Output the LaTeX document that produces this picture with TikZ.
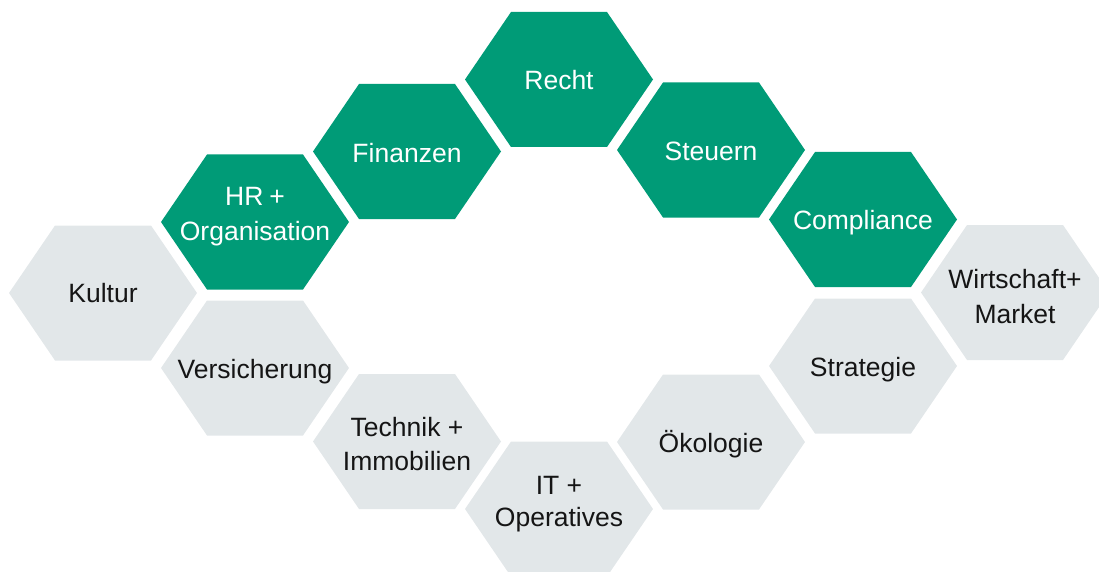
\documentclass[tikz,border=0pt]{standalone}
\usepackage{fontspec}
\setmainfont{Liberation Sans}
\definecolor{hexgreen}{HTML}{009B77}
\definecolor{hexgray}{HTML}{E2E7E9}
\definecolor{txtdark}{HTML}{151515}
\begin{document}
\begin{tikzpicture}[x=1pt,y=-1pt,
  pics/hexa/.style={code={\fill[#1] (-94,0) -- (-48,-67.5) -- (48,-67.5) -- (94,0) -- (48,67.5) -- (-48,67.5) -- cycle;}},
  lbl/.style={anchor=base,inner sep=0pt,font=\fontsize{26.5}{34}\selectfont},
  wlbl/.style={lbl,text=white},
  dlbl/.style={lbl,text=txtdark}]
\useasboundingbox (0,0) rectangle (1099,572);
\clip (0,0) rectangle (1099,572);
% green hexagons
\pic at (255,222) {hexa=hexgreen};
\pic at (407,151.5) {hexa=hexgreen};
\pic at (559,79.5) {hexa=hexgreen};
\pic at (711,150) {hexa=hexgreen};
\pic at (863,219.5) {hexa=hexgreen};
% gray hexagons
\pic at (103,293) {hexa=hexgray};
\pic at (255,368) {hexa=hexgray};
\pic at (407,441.5) {hexa=hexgray};
\pic at (559,509) {hexa=hexgray};
\pic at (711,442) {hexa=hexgray};
\pic at (863,366) {hexa=hexgray};
\pic at (1015,292.5) {hexa=hexgray};
% labels
\node[wlbl] (hr1) at (255,205.7) {HR\hspace{0.22em}+};
\node[wlbl] (hr2) at (255,240) {Organisation};
\node[wlbl] (fin) at (407,162.5) {Finanzen};
\node[wlbl] (recht) at (559,90) {Recht};
\node[wlbl] (steu) at (711,160.7) {Steuern};
\node[wlbl] (comp) at (863,229.5) {Compliance};
\node[dlbl] (kult) at (103,302.7) {Kultur};
\node[dlbl] (vers) at (255,378) {Versicherung};
\node[dlbl] (tech1) at (407,436.7) {Technik +};
\node[dlbl] (tech2) at (407,470) {Immobilien};
\node[dlbl] (it1) at (559,494) {IT +};
\node[dlbl] (it2) at (559,526.7) {Operatives};
\node[dlbl] (oeko) at (711,452.3) {Ökologie};
\node[dlbl] (strat) at (863,376.7) {Strategie};
\node[dlbl] (wirt1) at (1015,288.3) {Wirtschaft+};
\node[dlbl] (wirt2) at (1015,323.3) {Market};
\end{tikzpicture}
\end{document}
